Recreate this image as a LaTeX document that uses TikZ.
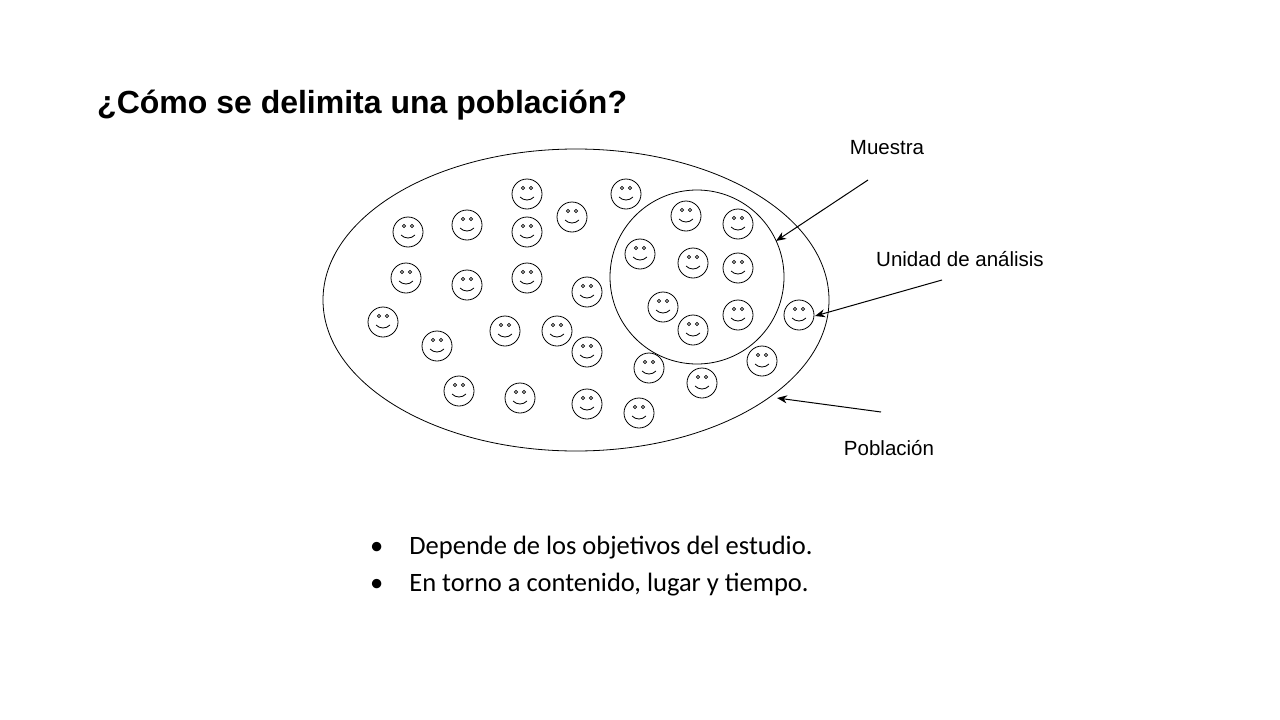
\documentclass[tikz,border=0pt]{standalone}
\usepackage{fontspec}
\usetikzlibrary{arrows.meta}
\setmainfont{Liberation Sans}
\newfontfamily\calib{Carlito}
\begin{document}
\begin{tikzpicture}[x=1pt,y=-1pt,
  smiley/.pic={\draw[line width=0.8pt] (0,0) circle (15);
    \draw[line width=0.6pt] (-4,-6) circle (1.6) (4,-6) circle (1.6);
    \draw[line width=0.8pt] (-7,3) .. controls (-3,7) and (3,7) .. (7,3);},
  lab/.style={font=\fontsize{20.5}{24}\selectfont},
  arr/.style={-{Stealth[length=10pt,width=8pt]},line width=1pt}]
\useasboundingbox (0,0) rectangle (1280,720);
\node[anchor=west,inner sep=0pt,font=\bfseries\fontsize{32}{38}\selectfont] (title) at (97,105) {¿Cómo se delimita una población?};
\draw[line width=0.8pt] (576,300) ellipse (253 and 151);
\draw[line width=0.8pt] (697,277) circle (87);
\foreach \p in {(527,194),(626,194),(408,232),(467,225),(527,232),(572,217),(686,216),(738,224),(640,254),(693,263),(738,268),(406,278),(467,285),(527,278),(587,292),(663,307),(738,315),(799,315),(693,330),(383,322),(437,346),(505,331),(557,331),(587,352),(649,368),(762,361),(702,383),(459,391),(520,398),(587,404),(639,413)}
  \pic at \p {smiley};
\node[lab] (m) at (887,148) {Muestra};
\node[lab] (u) at (960,259) {Unidad de análisis};
\node[lab] (p) at (889,448) {Población};
\coordinate (m1) at (868,180); \coordinate (m2) at (776,241);
\coordinate (u1) at (942,280); \coordinate (u2) at (815,316);
\coordinate (p1) at (881,412); \coordinate (p2) at (777,398);
\draw[arr] (m1) -- (m2);
\draw[arr] (u1) -- (u2);
\draw[arr] (p1) -- (p2);
\node[anchor=west,inner sep=0pt,font=\calib\fontsize{26.5}{32}\selectfont] (b1) at (370,548) {•\hspace{26pt}Depende de los objetivos del estudio.};
\node[anchor=west,inner sep=0pt,font=\calib\fontsize{26.5}{32}\selectfont] (b2) at (370,585) {•\hspace{26pt}En torno a contenido, lugar y tiempo.};
\end{tikzpicture}
\end{document}
